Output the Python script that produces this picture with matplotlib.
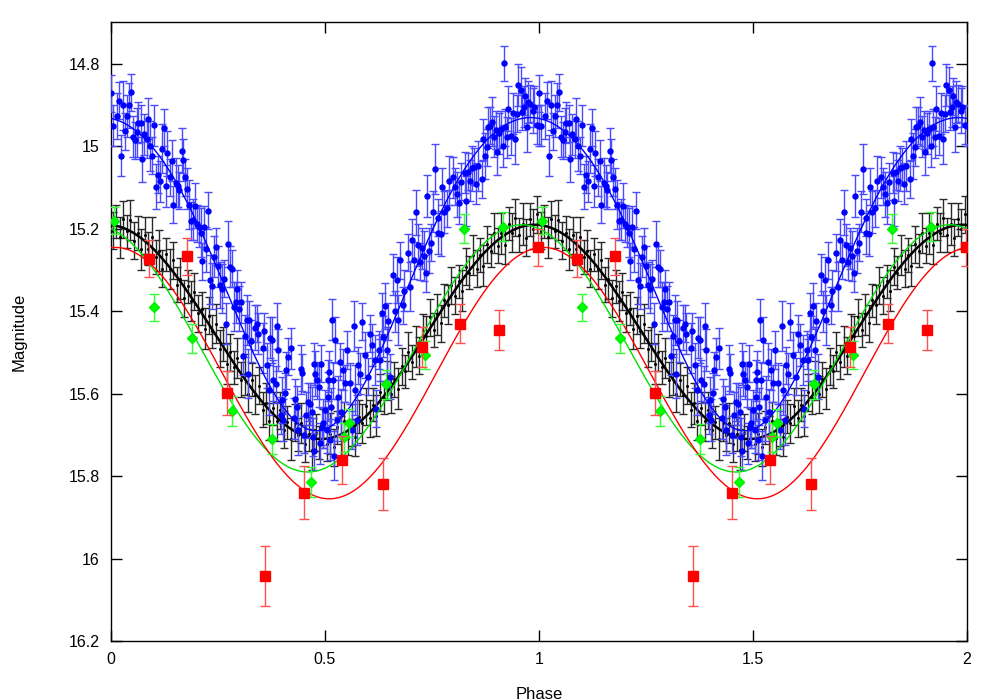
import numpy as np
import matplotlib
matplotlib.use('Agg')
import matplotlib.pyplot as plt

plt.rcParams['font.family'] = ['Liberation Sans', 'DejaVu Sans']

# ---------------- data (one cycle; plotted at phase and phase+1) ----------------
blue_phase = [
    0.000, 0.005, 0.013, 0.019, 0.023, 0.029, 0.033, 0.037, 0.042, 0.047,
    0.051, 0.056, 0.060, 0.064, 0.069, 0.073, 0.078, 0.083, 0.087, 0.092,
    0.095, 0.100, 0.104, 0.109, 0.114, 0.118, 0.123, 0.128, 0.132, 0.137,
    0.142, 0.146, 0.151, 0.156, 0.160, 0.165, 0.169, 0.173, 0.178, 0.182,
    0.187, 0.192, 0.196, 0.201, 0.206, 0.210, 0.213, 0.218, 0.222, 0.227,
    0.232, 0.237, 0.241, 0.246, 0.251, 0.255, 0.259, 0.263, 0.268, 0.273,
    0.277, 0.282, 0.287, 0.291, 0.295, 0.299, 0.304, 0.308, 0.313, 0.317,
    0.322, 0.326, 0.336, 0.340, 0.344, 0.354, 0.358, 0.372, 0.389, 0.413,
    0.421, 0.321, 0.364, 0.379, 0.385, 0.368, 0.407, 0.399, 0.430, 0.444,
    0.447, 0.435, 0.455, 0.461, 0.465, 0.469, 0.471, 0.475, 0.477, 0.481,
    0.485, 0.491, 0.496, 0.500, 0.493, 0.504, 0.508, 0.397, 0.403, 0.438,
    0.410, 0.391, 0.375, 0.474, 0.488, 0.520, 0.452, 0.427, 0.523, 0.535,
    0.510, 0.519, 0.506, 0.531, 0.514, 0.537, 0.528, 0.547, 0.558, 0.570,
    0.578, 0.582, 0.593, 0.601, 0.609, 0.617, 0.625, 0.629, 0.644, 0.605,
    0.636, 0.562, 0.574, 0.512, 0.619, 0.652, 0.543, 0.551, 0.517, 0.568,
    0.586, 0.634, 0.640, 0.648, 0.664, 0.671, 0.682, 0.658, 0.668, 0.676,
    0.685, 0.693, 0.699, 0.703, 0.708, 0.712, 0.718, 0.722, 0.726, 0.731,
    0.735, 0.739, 0.744, 0.748, 0.752, 0.757, 0.763, 0.765, 0.772, 0.774,
    0.779, 0.784, 0.790, 0.798, 0.804, 0.808, 0.813, 0.818, 0.826, 0.830,
    0.835, 0.839, 0.843, 0.848, 0.853, 0.857, 0.866, 0.870, 0.874, 0.879,
    0.882, 0.886, 0.890, 0.894, 0.899, 0.903, 0.907, 0.911, 0.916, 0.919,
    0.920, 0.925, 0.928, 0.934, 0.939, 0.943, 0.949, 0.952, 0.957, 0.961,
    0.964, 0.967, 0.971, 0.975, 0.980, 0.985, 0.989, 0.995, 0.999,
]
blue_mag = [
    14.871, 14.950, 14.926, 14.889, 15.022, 14.900, 14.963, 14.926, 14.900, 14.869,
    14.976, 14.985, 14.966, 14.942, 14.944, 15.031, 14.971, 14.983, 14.933, 14.999,
    15.023, 14.949, 15.098, 15.069, 15.085, 15.005, 14.955, 15.096, 15.017, 15.075,
    15.035, 15.141, 15.088, 15.096, 15.106, 15.010, 15.033, 15.075, 15.103, 15.141,
    15.181, 15.178, 15.144, 15.188, 15.195, 15.209, 15.279, 15.195, 15.250, 15.156,
    15.323, 15.339, 15.268, 15.243, 15.291, 15.336, 15.345, 15.321, 15.430, 15.237,
    15.292, 15.297, 15.389, 15.378, 15.345, 15.394, 15.378, 15.509, 15.460, 15.421,
    15.420, 15.472, 15.440, 15.430, 15.454, 15.489, 15.448, 15.464, 15.436, 15.510,
    15.490, 15.551, 15.531, 15.567, 15.577, 15.591, 15.599, 15.615, 15.614, 15.541,
    15.549, 15.632, 15.652, 15.620, 15.625, 15.644, 15.705, 15.528, 15.551, 15.567,
    15.583, 15.527, 15.672, 15.640, 15.680, 15.688, 15.567, 15.652, 15.664, 15.688,
    15.543, 15.494, 15.470, 15.740, 15.720, 15.750, 15.700, 15.660, 15.470, 15.522,
    15.547, 15.567, 15.607, 15.607, 15.632, 15.644, 15.664, 15.575, 15.575, 15.591,
    15.531, 15.551, 15.506, 15.559, 15.482, 15.518, 15.494, 15.518, 15.494, 15.454,
    15.462, 15.688, 15.664, 15.712, 15.636, 15.559, 15.542, 15.494, 15.420, 15.436,
    15.425, 15.405, 15.387, 15.424, 15.400, 15.421, 15.385, 15.311, 15.324, 15.276,
    15.350, 15.258, 15.340, 15.227, 15.276, 15.160, 15.239, 15.280, 15.247, 15.266,
    15.308, 15.120, 15.253, 15.234, 15.158, 15.055, 15.173, 15.211, 15.212, 15.098,
    15.159, 15.150, 15.083, 15.075, 15.098, 15.116, 15.137, 15.086, 15.064, 15.132,
    15.061, 15.083, 15.053, 15.049, 15.090, 15.048, 15.080, 14.983, 15.023, 15.002,
    14.954, 14.950, 14.940, 14.976, 14.960, 15.014, 14.968, 14.958, 14.999, 14.798,
    14.954, 14.978, 14.908, 14.975, 14.920, 14.983, 14.921, 14.851, 14.863, 14.916,
    14.904, 14.878, 14.954, 14.892, 14.896, 14.913, 14.904, 14.948, 14.950,
]
blue_err = [
    0.045, 0.050, 0.055, 0.045, 0.050, 0.060, 0.045, 0.050, 0.055, 0.045,
    0.050, 0.045, 0.060, 0.050, 0.045, 0.055, 0.050, 0.045, 0.050, 0.060,
    0.045, 0.050, 0.055, 0.045, 0.050, 0.060, 0.045, 0.050, 0.055, 0.045,
    0.050, 0.045, 0.060, 0.050, 0.045, 0.055, 0.050, 0.045, 0.050, 0.060,
    0.045, 0.050, 0.055, 0.045, 0.050, 0.060, 0.045, 0.050, 0.055, 0.045,
    0.060, 0.055, 0.050, 0.045, 0.050, 0.055, 0.060, 0.045, 0.050, 0.055,
    0.050, 0.045, 0.060, 0.050, 0.045, 0.055, 0.050, 0.045, 0.050, 0.060,
    0.045, 0.050, 0.055, 0.045, 0.050, 0.060, 0.045, 0.050, 0.055, 0.045,
    0.050, 0.060, 0.055, 0.050, 0.045, 0.060, 0.050, 0.055, 0.050, 0.060,
    0.045, 0.050, 0.055, 0.045, 0.050, 0.060, 0.045, 0.050, 0.055, 0.045,
    0.050, 0.045, 0.060, 0.050, 0.045, 0.055, 0.050, 0.045, 0.050, 0.060,
    0.045, 0.050, 0.055, 0.045, 0.050, 0.060, 0.045, 0.050, 0.055, 0.045,
    0.050, 0.045, 0.060, 0.050, 0.045, 0.055, 0.050, 0.045, 0.050, 0.060,
    0.045, 0.050, 0.055, 0.045, 0.050, 0.060, 0.045, 0.050, 0.055, 0.045,
    0.050, 0.045, 0.060, 0.050, 0.045, 0.055, 0.050, 0.045, 0.050, 0.060,
    0.045, 0.050, 0.055, 0.045, 0.050, 0.060, 0.045, 0.050, 0.055, 0.045,
    0.050, 0.045, 0.060, 0.050, 0.045, 0.055, 0.050, 0.045, 0.050, 0.060,
    0.045, 0.050, 0.055, 0.045, 0.050, 0.060, 0.045, 0.050, 0.055, 0.045,
    0.050, 0.045, 0.060, 0.050, 0.045, 0.055, 0.050, 0.045, 0.050, 0.060,
    0.045, 0.050, 0.055, 0.045, 0.050, 0.060, 0.045, 0.050, 0.055, 0.045,
    0.050, 0.045, 0.060, 0.050, 0.045, 0.055, 0.050, 0.045, 0.050, 0.042,
    0.045, 0.050, 0.055, 0.045, 0.050, 0.060, 0.045, 0.050, 0.055, 0.045,
    0.050, 0.045, 0.060, 0.050, 0.045, 0.055, 0.050, 0.045, 0.050,
]

black_phase = [
    0.004, 0.012, 0.020, 0.029, 0.037, 0.045, 0.054, 0.062, 0.070, 0.079, 0.087, 0.095,
    0.104, 0.112, 0.120, 0.129, 0.137, 0.145, 0.154, 0.162, 0.170, 0.179, 0.187, 0.195,
    0.204, 0.212, 0.220, 0.229, 0.237, 0.245, 0.254, 0.262, 0.270, 0.279, 0.287, 0.295,
    0.304, 0.312, 0.320, 0.329, 0.337, 0.345, 0.354, 0.362, 0.370, 0.379, 0.387, 0.395,
    0.404, 0.412, 0.420, 0.429, 0.437, 0.445, 0.454, 0.462, 0.470, 0.479, 0.487, 0.495,
    0.504, 0.512, 0.520, 0.529, 0.537, 0.545, 0.554, 0.562, 0.570, 0.579, 0.587, 0.595,
    0.604, 0.612, 0.620, 0.629, 0.637, 0.645, 0.654, 0.662, 0.670, 0.679, 0.687, 0.695,
    0.704, 0.712, 0.720, 0.729, 0.737, 0.745, 0.754, 0.762, 0.770, 0.779, 0.787, 0.795,
    0.804, 0.812, 0.820, 0.829, 0.837, 0.845, 0.854, 0.862, 0.870, 0.879, 0.887, 0.895,
    0.904, 0.912, 0.920, 0.929, 0.937, 0.945, 0.954, 0.962, 0.970, 0.979, 0.987, 0.995,
]
black_mag = [
    15.205, 15.183, 15.220, 15.177, 15.206, 15.178, 15.229, 15.210, 15.250, 15.216, 15.248, 15.220,
    15.268, 15.253, 15.297, 15.262, 15.298, 15.276, 15.335, 15.321, 15.368, 15.339, 15.375, 15.352,
    15.405, 15.394, 15.442, 15.411, 15.449, 15.430, 15.491, 15.479, 15.527, 15.499, 15.536, 15.513,
    15.566, 15.553, 15.600, 15.566, 15.602, 15.581, 15.639, 15.623, 15.667, 15.635, 15.667, 15.640,
    15.687, 15.669, 15.710, 15.670, 15.699, 15.671, 15.721, 15.698, 15.736, 15.695, 15.719, 15.684,
    15.722, 15.697, 15.730, 15.681, 15.702, 15.666, 15.707, 15.676, 15.706, 15.656, 15.672, 15.630,
    15.660, 15.627, 15.653, 15.596, 15.610, 15.568, 15.601, 15.565, 15.588, 15.533, 15.545, 15.498,
    15.523, 15.486, 15.508, 15.447, 15.459, 15.414, 15.445, 15.407, 15.429, 15.373, 15.384, 15.337,
    15.362, 15.327, 15.350, 15.292, 15.306, 15.263, 15.297, 15.263, 15.289, 15.237, 15.253, 15.210,
    15.241, 15.211, 15.240, 15.188, 15.209, 15.173, 15.215, 15.188, 15.221, 15.177, 15.201, 15.165,
]
black_err = [
    0.045, 0.040, 0.050, 0.045, 0.040, 0.048, 0.045, 0.042, 0.050, 0.045, 0.040, 0.048,
    0.042, 0.050, 0.045, 0.040, 0.048, 0.045, 0.042, 0.050, 0.045, 0.040, 0.048, 0.045,
    0.045, 0.040, 0.050, 0.045, 0.040, 0.048, 0.045, 0.042, 0.050, 0.045, 0.040, 0.048,
    0.042, 0.050, 0.045, 0.040, 0.048, 0.045, 0.042, 0.050, 0.045, 0.040, 0.048, 0.045,
    0.045, 0.040, 0.050, 0.045, 0.040, 0.048, 0.045, 0.042, 0.050, 0.045, 0.040, 0.048,
    0.042, 0.050, 0.045, 0.040, 0.048, 0.045, 0.042, 0.050, 0.045, 0.040, 0.048, 0.045,
    0.045, 0.040, 0.050, 0.045, 0.040, 0.048, 0.045, 0.042, 0.050, 0.045, 0.040, 0.048,
    0.042, 0.050, 0.045, 0.040, 0.048, 0.045, 0.042, 0.050, 0.045, 0.040, 0.048, 0.045,
    0.045, 0.040, 0.050, 0.045, 0.040, 0.048, 0.045, 0.042, 0.050, 0.045, 0.040, 0.048,
    0.042, 0.050, 0.045, 0.040, 0.048, 0.045, 0.042, 0.050, 0.045, 0.040, 0.048, 0.045,
]

green_phase = [0.008, 0.100, 0.190, 0.283, 0.376, 0.467, 0.545, 0.556, 0.643, 0.733, 0.825, 0.916]
green_mag = [15.180, 15.390, 15.465, 15.642, 15.710, 15.815, 15.706, 15.671, 15.577, 15.506, 15.200, 15.195]
green_err = [0.032, 0.033, 0.035, 0.036, 0.036, 0.036, 0.035, 0.035, 0.035, 0.035, 0.035, 0.035]

red_phase = [0.089, 0.178, 0.270, 0.360, 0.450, 0.540, 0.635, 0.727, 0.816, 0.907, 0.998]
red_mag = [15.273, 15.266, 15.598, 16.043, 15.840, 15.761, 15.820, 15.487, 15.430, 15.445, 15.245]
red_err = [0.045, 0.045, 0.054, 0.073, 0.064, 0.059, 0.063, 0.048, 0.048, 0.048, 0.045]

# fitted light-curve models (two-term Fourier): mean, first and second harmonic
# semi-amplitudes, and phase of maximum light
fit_names = ['black', 'blue', 'green', 'red']
fit_mean = [15.45, 15.281, 15.49, 15.55]
fit_amp = [0.26, 0.38, 0.30, 0.305]
fit_amp2 = [0.0, 0.029, 0.0, 0.0]
fit_phase_max = [0.99, 0.98, 0.96, 1.01]

x_ticks = [0, 0.5, 1, 1.5, 2]
x_ticklabels = ['0', '0.5', '1', '1.5', '2']
y_ticks = [14.8, 15.0, 15.2, 15.4, 15.6, 15.8, 16.0, 16.2]
y_ticklabels = ['14.8', '15', '15.2', '15.4', '15.6', '15.8', '16', '16.2']

# ---------------- drawing ----------------
def two(a):
    a = np.asarray(a, dtype=float)
    return np.concatenate([a, a + 1.0])

def two_v(a):
    a = np.asarray(a, dtype=float)
    return np.concatenate([a, a])

fig = plt.figure(figsize=(10, 7), dpi=100)
ax = fig.add_axes([0.111, 0.0843, 0.856, 0.8843])

ax.errorbar(two(black_phase), two_v(black_mag), yerr=two_v(black_err), fmt='o', ms=1.2,
            color='black', ecolor='#2a2a2a', elinewidth=1.0, capsize=3.2, capthick=1.0,
            zorder=2)
ax.errorbar(two(blue_phase), two_v(blue_mag), yerr=two_v(blue_err), fmt='o', ms=3.6,
            color='#0000ff', mec='#0000ff', ecolor='#4a4aff', elinewidth=1.0, capsize=3.2,
            capthick=1.0, zorder=3)

xx = np.linspace(0, 2, 1001)
line_colors = {'black': 'black', 'blue': '#0000ff', 'green': '#00e000', 'red': '#ff0000'}
line_widths = {'black': 1.8, 'blue': 1.0, 'green': 1.0, 'red': 1.0}
line_z = {'black': 2.5, 'blue': 3.5, 'green': 4.5, 'red': 4.6}
for name, m, a, a2, p in zip(fit_names, fit_mean, fit_amp, fit_amp2, fit_phase_max):
    th = 2 * np.pi * (xx - p)
    yy = m - a * np.cos(th) + a2 * np.cos(2 * th)
    ax.plot(xx, yy, color=line_colors[name], lw=line_widths[name], zorder=line_z[name])

ax.errorbar(two(green_phase), two_v(green_mag), yerr=two_v(green_err), fmt='D', ms=5,
            color='#00ff00', mec='#00ee00', ecolor='#33ff33', elinewidth=1.0, capsize=3.5,
            capthick=1.0, zorder=5)
ax.errorbar(two(red_phase), two_v(red_mag), yerr=two_v(red_err), fmt='s', ms=7,
            color='#ff0000', mec='#ff0000', ecolor='#ff5050', elinewidth=1.0, capsize=3.5,
            capthick=1.0, zorder=6)

ax.set_xlim(0, 2)
ax.set_ylim(16.2, 14.698)
ax.set_xticks(x_ticks)
ax.set_xticklabels(x_ticklabels)
ax.set_yticks(y_ticks)
ax.set_yticklabels(y_ticklabels)
ax.tick_params(direction='in', length=8, width=1, top=True, right=True,
               labelsize=11.5, pad=8, colors='black')
for s in ax.spines.values():
    s.set_linewidth(1.0)
ax.set_xlabel('Phase', fontsize=12, labelpad=14)
ax.set_ylabel('Magnitude', fontsize=12, labelpad=30)

fig.savefig('out.png', dpi=100)
